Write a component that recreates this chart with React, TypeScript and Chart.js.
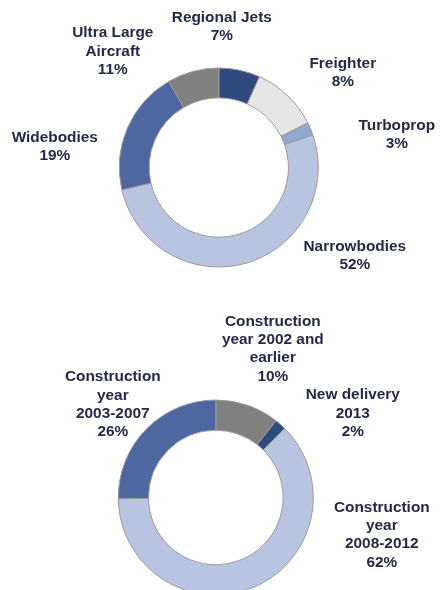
import React, { useEffect, useRef } from "react";
import { Chart, registerables } from "chart.js";

Chart.register(...registerables);

// ---- Data: fleet by aircraft type ----
const typeLabels = [
  ["Regional Jets"],
  ["Freighter"],
  ["Turboprop"],
  ["Narrowbodies"],
  ["Widebodies"],
  ["Ultra Large", "Aircraft"],
];
const typePrinted = ["7%", "8%", "3%", "52%", "19%", "11%"];
// arc shares as drawn in the picture
const typeShares = [6.7, 10.9, 2.1, 51.7, 20.2, 8.4];

// ---- Data: fleet by construction year ----
const ageLabels = [
  ["Construction", "year 2002 and", "earlier"],
  ["New delivery", "2013"],
  ["Construction", "year", "2008-2012"],
  ["Construction", "year", "2003-2007"],
];
const agePrinted = ["10%", "2%", "62%", "26%"];
const ageShares = [10.6, 1.9, 62.3, 25.2];

// ---- Styles / layout ----
const typeColors = ["#2E4A7D", "#E6E6E6", "#93A6CE", "#B9C5E0", "#4E67A0", "#808080"];
const ageColors = ["#808080", "#2E4A7D", "#B9C5E0", "#4E67A0"];
// label block centers relative to donut center (px)
const typeLabelOffsets = [
  [3, -141],
  [124, -95],
  [178, -32.5],
  [136, 88.5],
  [-164, -21],
  [-106, -116],
];
const ageLabelOffsets = [
  [57, -148.5],
  [137, -84],
  [166, 37.5],
  [-103, -93],
];

const TEXT_COLOR = "#252949";
const FONT = "bold 15.4px 'Liberation Sans', Arial, sans-serif";
const LINE_H = 18.3;

function makeLabelPlugin(labels: string[][], printed: string[], offsets: number[][]) {
  return {
    id: "outerLabels",
    afterDraw(chart: any) {
      const meta = chart.getDatasetMeta(0);
      const arc = meta.data[0];
      if (!arc) return;
      const cx = arc.x;
      const cy = arc.y;
      const ctx = chart.ctx;
      ctx.save();
      ctx.font = FONT;
      ctx.fillStyle = TEXT_COLOR;
      ctx.textAlign = "center";
      ctx.textBaseline = "middle";
      labels.forEach((lines, i) => {
        const all = [...lines, printed[i]];
        const x = cx + offsets[i][0];
        const yc = cy + offsets[i][1];
        const y0 = yc - ((all.length - 1) * LINE_H) / 2;
        all.forEach((t, j) => ctx.fillText(t, x, y0 + j * LINE_H));
      });
      ctx.restore();
    },
  };
}

function Donut(props: {
  width: number;
  height: number;
  data: number[];
  colors: string[];
  padding: { left: number; right: number; top: number; bottom: number };
  cutout: string;
  plugin: any;
}) {
  const ref = useRef<HTMLCanvasElement | null>(null);
  useEffect(() => {
    if (!ref.current) return;
    const chart = new Chart(ref.current, {
      type: "doughnut",
      data: {
        labels: props.data.map((_, i) => String(i)),
        datasets: [
          {
            data: props.data,
            backgroundColor: props.colors,
            borderColor: "#9A9A9A",
            borderWidth: 1,
            hoverOffset: 0,
          },
        ],
      },
      options: {
        responsive: false,
        maintainAspectRatio: false,
        animation: false,
        devicePixelRatio: 1,
        cutout: props.cutout,
        layout: { padding: props.padding },
        plugins: { legend: { display: false }, tooltip: { enabled: false } },
      } as any,
      plugins: [props.plugin],
    });
    return () => chart.destroy();
  }, []);
  return (
    <canvas
      ref={ref}
      width={props.width}
      height={props.height}
      style={{ display: "block", width: props.width, height: props.height }}
    />
  );
}

export default function App() {
  return (
    <div
      style={{
        position: "absolute",
        left: 0,
        top: 0,
        width: 441,
        height: 590,
        overflow: "hidden",
        background: "#ffffff",
      }}
    >
      <div style={{ position: "absolute", left: 0, top: 0 }}>
        <Donut
          width={441}
          height={290}
          data={typeShares}
          colors={typeColors}
          cutout="70%"
          padding={{ left: 118.8, right: 122.2, top: 67.5, bottom: 22.5 }}
          plugin={makeLabelPlugin(typeLabels, typePrinted, typeLabelOffsets)}
        />
      </div>
      <div style={{ position: "absolute", left: 0, top: 290 }}>
        <Donut
          width={441}
          height={320}
          data={ageShares}
          colors={ageColors}
          cutout="69%"
          padding={{ left: 117.8, right: 127.2, top: 109.5, bottom: 14.5 }}
          plugin={makeLabelPlugin(ageLabels, agePrinted, ageLabelOffsets)}
        />
      </div>
    </div>
  );
}
